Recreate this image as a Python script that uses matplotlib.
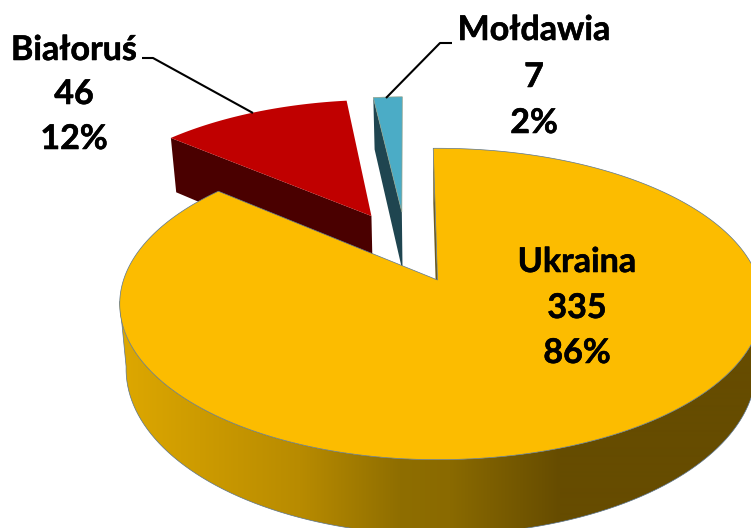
import numpy as np
import matplotlib
matplotlib.use('Agg')
import matplotlib.pyplot as plt
import matplotlib.patheffects as pe
from matplotlib.patches import Polygon

plt.rcParams['font.family'] = ['Lato', 'DejaVu Sans']

# Data
names = ['Ukraina', 'Białoruś', 'Mołdawia']
values = [335, 46, 7]
percents = ['86%', '12%', '2%']

# Pie geometry, in picture pixels
cx, cy = 437.5, 280
rx_left, rx_right = 314, 321
ry = 152
persp = 0.154
depth = 63.5
bottom_shrink = 0.98
start_angle = -0.9
offsets = [(0, 0), (-0.225, 0.45), (-0.122, 0.48)]
rim_from, rim_to = 98, 262

# x position and colour of the shading on the rim
shade_x = [119, 300, 400, 450, 560, 751]
shade_rgb = [(0xde, 0xa8, 0x00), (0xb8, 0x8b, 0x00), (0x8f, 0x6e, 0x00),
             (0x8a, 0x6a, 0x00), (0x66, 0x4c, 0x00), (0x66, 0x4c, 0x00)]


def project(u, v, z=0.0):
    w = 1 + persp * v
    scale = 1 - (1 - bottom_shrink) * z
    rx = np.where(np.asarray(u) > 0, rx_right, rx_left)
    return cx + rx * u * scale / w, cy - ry * v / w + depth * z / w


def arc(a0, a1, off, z=0.0, n=200):
    t = np.radians(np.linspace(a0, a1, n))
    x, y = project(np.sin(t) + off[0], np.cos(t) + off[1], z)
    return np.column_stack([x, y])


def apex(off, z=0.0):
    x, y = project(off[0], off[1], z)
    return np.array([[x, y]])


def radial_wall(angle, off):
    rim_top = arc(angle, angle, off, 0, 1)
    rim_bot = arc(angle, angle, off, 1, 1)
    return np.vstack([rim_top, apex(off), apex(off, 1), rim_bot])


total = sum(values)
spans = np.array(values) / total * 360
edges = start_angle + np.concatenate([[0], np.cumsum(spans)])

fig = plt.figure(figsize=(7.51, 5.28), dpi=100)
ax = fig.add_axes([0, 0, 1, 1])

# Białoruś
ax.fill(*radial_wall(edges[1], offsets[1]).T, color='#4a0000', lw=0, zorder=1)
face = np.vstack([apex(offsets[1]), arc(edges[1], edges[2], offsets[1])])
ax.fill(*face.T, color='#c00000', lw=0, zorder=2)

# Mołdawia
ax.fill(*radial_wall(edges[2], offsets[2]).T, color='#1f4550', lw=0, zorder=3)
face = np.vstack([apex(offsets[2]), arc(edges[2], edges[3], offsets[2])])
ax.fill(*face.T, facecolor='#4bacc6', edgecolor='#8fa08a', lw=0.5, zorder=4)

# Ukraina rim, shading clipped to the rim outline
top = arc(rim_from, rim_to, offsets[0], 0, 400)
bot = arc(rim_from, rim_to, offsets[0], 1, 400)
rim = Polygon(np.vstack([top, bot[::-1]]), closed=True, facecolor='none', edgecolor='none',
              transform=ax.transData)
ax.add_patch(rim)
xs = np.arange(751) + 0.5
grad = np.array([np.interp(xs, shade_x, [c[i] for c in shade_rgb]) for i in range(3)]).T / 255
im = ax.imshow(grad[np.newaxis, :, :], extent=(0, 751, 528, 0), aspect='auto', zorder=5,
               interpolation='bilinear')
im.set_clip_path(rim)
ax.plot(np.r_[top[-1, 0], bot[::-1, 0]], np.r_[top[-1, 1], bot[::-1, 1]],
        color='#5b7590', lw=0.5, zorder=6)

# small sliver of the inner wall beside the top edge
ax.fill(*radial_wall(edges[0], offsets[0]).T, color='#6b5a20', lw=0, zorder=6)

# Ukraina top
face = np.vstack([apex(offsets[0]), arc(edges[0], edges[1], offsets[0], 0, 500)])
ax.fill(*face.T, facecolor='#fcbc00', edgecolor='#5b7590', lw=0.5, zorder=7)

# Leader lines
ax.plot([142, 153, 253], [58, 58, 113], color='black', lw=1.5, zorder=8, solid_capstyle='butt')
ax.plot([386, 440, 452], [98, 43, 43], color='black', lw=1.5, zorder=8, solid_capstyle='butt')

# Labels
label_x = [577, 74, 534]
label_y = [[262, 308, 353], [50, 94, 139], [30, 77, 123]]
for i in range(3):
    lines = [names[i], str(values[i]), percents[i]]
    for s, y in zip(lines, label_y[i]):
        ax.text(label_x[i], y, s, ha='center', va='center', fontsize=24.5,
                fontweight='bold', color='black', zorder=9,
                path_effects=[pe.withStroke(linewidth=0.4, foreground='black')])

ax.set_xlim(0, 751)
ax.set_ylim(528, 0)
ax.axis('off')

fig.savefig('out.png', dpi=100)
